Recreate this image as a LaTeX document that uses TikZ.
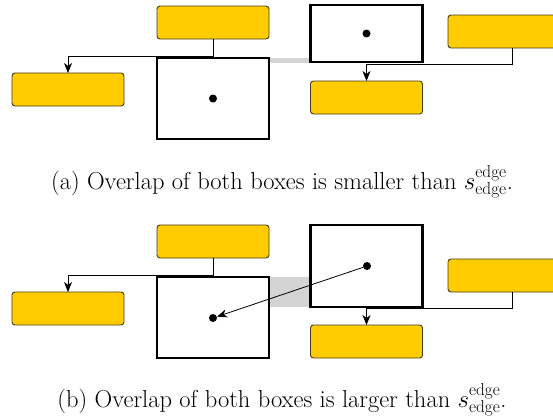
\documentclass[tikz,border=0pt]{standalone}
\usetikzlibrary{arrows.meta,calc}
\definecolor{ybox}{RGB}{255,204,0}
\definecolor{yedge}{RGB}{70,60,30}
\definecolor{ovl}{RGB}{212,212,212}
\begin{document}
\begin{tikzpicture}[x=1pt,y=-1pt,
  ybx/.style={draw=yedge,fill=ybox,line width=0.9pt,rounded corners=3pt,minimum width=112pt,minimum height=33pt,inner sep=0pt,outer sep=0pt},
  bbx/.style={draw=black,line width=2.3pt,minimum width=112pt,inner sep=0pt,outer sep=0pt},
  conn/.style={draw=black,line width=0.8pt},
  arr/.style={conn,-{Stealth[length=10pt,width=8pt,inset=3pt]}},
  dot/.style={circle,fill=black,inner sep=0pt,minimum size=8pt},
  captxt/.style={font=\fontsize{24.5}{29}\selectfont,inner sep=0pt}]
\useasboundingbox (0,0) rectangle (553,418);
% ---------- (a) ----------
\fill[ovl] (269,57.5) rectangle (310,62.5);
\node[ybx] (at) at (213,22.5) {};
\node[ybx] (al) at (68,89.5) {};
\node[ybx,minimum width=128pt] (ar) at (512,31.5) {};
\node[ybx] (ab) at (366.5,97.5) {};
\node[bbx,minimum height=81pt] (ab1) at (213,98.5) {};
\node[bbx,minimum height=57pt] (ab2) at (366.5,33.5) {};
\node[dot] (ad1) at (ab1.center) {};
\node[dot] (ad2) at (ab2.center) {};
\coordinate (ak1) at (0,56);
\coordinate (ak2) at (0,64);
\draw[arr] (at.south) -- (at.south |- ak1) -| (al.north);
\draw[arr] (ar.south) -- (ar.south |- ak2) -| (ab.north);
\node[captxt] (capa) at (282,182) {(a) Overlap of both boxes is smaller than $s^{\mathrm{edge}}_{\mathrm{edge}}$.};
% ---------- (b) ----------
\fill[ovl] (269,277) rectangle (310,307);
\node[ybx] (bt) at (213,241.5) {};
\node[ybx] (bl) at (68,308.5) {};
\node[ybx,minimum width=128pt] (br) at (512,275.5) {};
\node[ybx] (bb) at (366.5,341.5) {};
\node[bbx,minimum height=81pt] (bb1) at (213,317.5) {};
\node[bbx,minimum height=82pt] (bb2) at (366.5,266) {};
\node[dot] (bd1) at (213,318) {};
\node[dot] (bd2) at (367,266) {};
\coordinate (bk1) at (0,275);
\coordinate (bk2) at (0,308);
\draw[arr] (bt.south) -- (bt.south |- bk1) -| (bl.north);
\draw[arr] (br.south) -- (br.south |- bk2) -| (bb.north);
\draw[arr] (bd2) -- (bd1);
\node[captxt] (capb) at (282,400) {(b) Overlap of both boxes is larger than $s^{\mathrm{edge}}_{\mathrm{edge}}$.};
\end{tikzpicture}
\end{document}
